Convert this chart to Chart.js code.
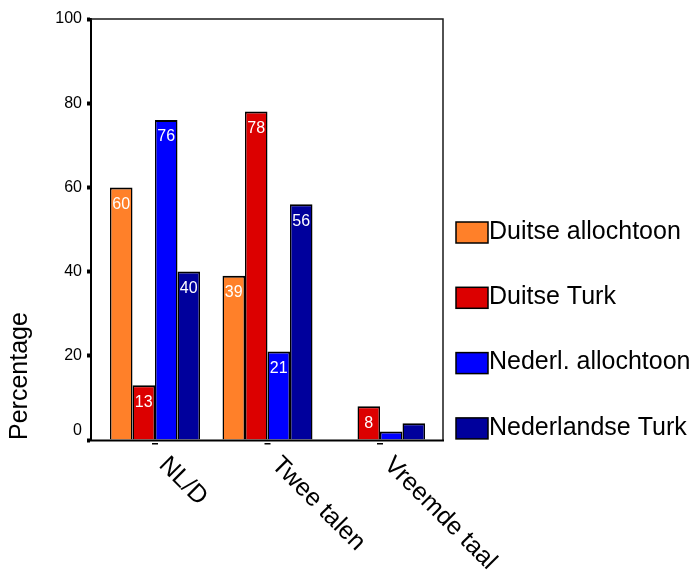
<!DOCTYPE html>
<html>
<head>
<meta charset="utf-8">
<script src="https://cdn.jsdelivr.net/npm/chart.js@4/dist/chart.umd.min.js"></script>
<style>
  html, body { margin: 0; padding: 0; background: #fff; }
  #wrap { width: 693px; height: 570px; position: relative; }
</style>
</head>
<body>
<div id="wrap"><canvas id="c" width="693" height="570"></canvas></div>
<script>
const categories = ['NL/D', 'Twee talen', 'Vreemde taal'];
const seriesNames = ['Duitse allochtoon', 'Duitse Turk', 'Nederl. allochtoon', 'Nederlandse Turk'];
const duitseAllochtoon = [60, 39, 0];
const duitseTurk = [13, 78, 8];
const nederlAllochtoon = [76, 21, 2];
const nederlandseTurk = [40, 56, 4];
const yTickValues = [0, 20, 40, 60, 80, 100];

const seriesValues = [duitseAllochtoon, duitseTurk, nederlAllochtoon, nederlandseTurk];
const colors = ['#FF8029', '#DC0000', '#0000FF', '#00009C'];
const FONT = '"Liberation Sans", Arial, Helvetica, sans-serif';

const decorPlugin = {
  id: 'decor',
  afterDatasetsDraw(chart) {
    const ctx = chart.ctx;
    const ca = chart.chartArea;
    const xs = chart.scales.x;
    ctx.save();
    // frame: top and right
    ctx.strokeStyle = '#1a1a1a';
    ctx.lineWidth = 1.5;
    ctx.beginPath();
    ctx.moveTo(ca.left, ca.top);
    ctx.lineTo(ca.right, ca.top);
    ctx.lineTo(ca.right, ca.bottom);
    ctx.stroke();
    // bottom axis line
    ctx.strokeStyle = '#000';
    ctx.lineWidth = 2;
    ctx.beginPath();
    ctx.moveTo(ca.left - 1, ca.bottom + 0.5);
    ctx.lineTo(ca.right + 1, ca.bottom + 0.5);
    ctx.stroke();
    // data labels
    ctx.fillStyle = '#fff';
    ctx.font = '16px ' + FONT;
    ctx.textAlign = 'center';
    ctx.textBaseline = 'middle';
    chart.data.datasets.forEach((ds, k) => {
      const meta = chart.getDatasetMeta(k);
      meta.data.forEach((bar, i) => {
        const v = seriesValues[k][i];
        if (v < 5) return;
        ctx.fillText(String(v), bar.x, bar.y + 17);
      });
    });
    // x tick dashes and rotated labels
    categories.forEach((c, i) => {
      const px = xs.getPixelForValue(i);
      ctx.fillStyle = '#000';
      ctx.fillRect(px - 3, ca.bottom + 3, 6, 1.5);
      ctx.save();
      ctx.translate(px + 3, ca.bottom + 26);
      ctx.rotate(Math.PI / 4);
      ctx.font = '25px ' + FONT;
      ctx.textAlign = 'left';
      ctx.textBaseline = 'alphabetic';
      ctx.fillText(c, 0, 0);
      ctx.restore();
    });
    // legend
    ctx.font = '25px ' + FONT;
    ctx.textAlign = 'left';
    ctx.textBaseline = 'middle';
    seriesNames.forEach((name, k) => {
      const top = 222 + k * 65.3;
      ctx.fillStyle = colors[k];
      ctx.fillRect(456, top, 32, 21);
      ctx.strokeStyle = '#000';
      ctx.lineWidth = 1.5;
      ctx.strokeRect(456, top, 32, 21);
      ctx.fillStyle = '#000';
      ctx.fillText(name, 489, top + 10);
    });
    ctx.restore();
  }
};

new Chart(document.getElementById('c').getContext('2d'), {
  type: 'bar',
  data: {
    datasets: seriesValues.map((vals, k) => ({
      label: seriesNames[k],
      data: vals.map((v, i) => ({ x: i, y: v })),
      backgroundColor: colors[k],
      borderColor: '#000',
      borderWidth: { top: 2, left: 1.5, right: 1.5, bottom: 0 },
      borderSkipped: false,
      categoryPercentage: 0.8,
      barPercentage: 1
    }))
  },
  options: {
    responsive: false,
    animation: false,
    devicePixelRatio: 1,
    layout: { padding: { left: 0, top: 19, right: 250, bottom: 130 } },
    plugins: { legend: { display: false }, tooltip: { enabled: false } },
    scales: {
      x: {
        type: 'linear',
        display: false,
        offset: false,
        min: -0.569,
        max: 2.56,
        afterBuildTicks: s => { s.ticks = categories.map((c, i) => ({ value: i })); }
      },
      y: {
        min: 0,
        max: 100,
        afterBuildTicks: s => { s.ticks = yTickValues.map(v => ({ value: v })); },
        afterFit: s => { s.width = 91; },
        border: { display: true, color: '#000', width: 2 },
        grid: { drawOnChartArea: false, drawTicks: true, tickLength: 4, tickWidth: 4, tickColor: '#000' },
        ticks: {
          color: '#000',
          font: { size: 16, family: FONT },
          padding: 5,
          callback: v => (v === 0 ? ['0', ''] : String(v))
        },
        title: {
          display: true,
          text: 'Percentage',
          align: 'start',
          color: '#000',
          font: { size: 25, family: FONT },
          padding: { top: 5, bottom: 0 }
        }
      }
    }
  },
  plugins: [decorPlugin]
});
</script>
</body>
</html>
